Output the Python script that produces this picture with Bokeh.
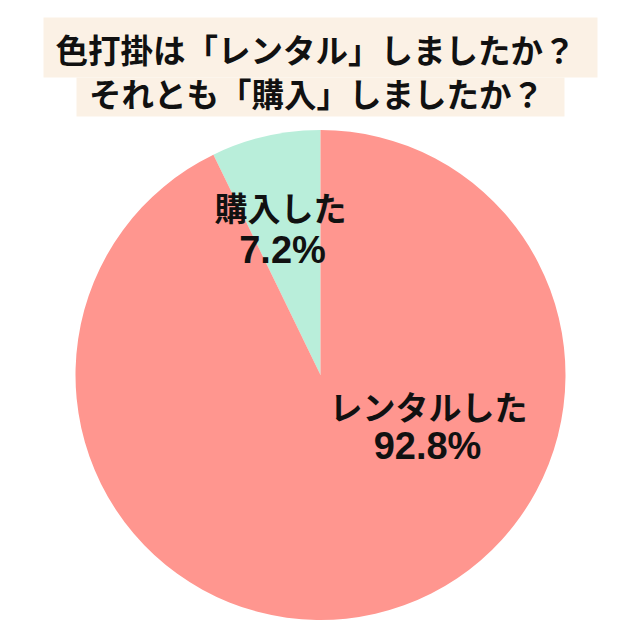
import math

from bokeh.core.properties import value
from bokeh.embed import file_html
from bokeh.models import Range1d
from bokeh.plotting import figure
from bokeh.resources import INLINE

# data
title_lines = ["色打掛は「レンタル」しましたか？", "それとも「購入」しましたか？"]
categories = ["購入した", "レンタルした"]
shares = [7.2, 92.8]
colors = ["#B9EEDA", "#FF968F"]

W = H = 624
p = figure(width=W, height=H, output_backend="svg", toolbar_location=None,
           x_range=Range1d(0, W), y_range=Range1d(0, H), min_border=0)
p.axis.visible = False
p.grid.visible = False
p.outline_line_color = None
p.background_fill_color = "white"

# pie, starting at 12 o'clock, anticlockwise
cx, cy, r = 320, 249.5, 245
start = math.pi / 2
starts, ends = [], []
for s in shares:
    starts.append(start)
    start += s / 100 * 2 * math.pi
    ends.append(start)

p.wedge(x=cx, y=cy, radius=r, start_angle=starts, end_angle=ends,
        fill_color=colors, line_color=None)

# title boxes
p.quad(left=[43, 76], right=[597, 564], bottom=[547, 508], top=[607, 547],
       fill_color="#FBF1E5", line_color=None)
jp = value("Noto Sans CJK JP")
p.text(x=[315, 316], y=[576, 532], text=title_lines, text_font=jp,
       text_font_size="32.5px", text_font_style="bold", text_color="#111111",
       text_align="center", text_baseline="middle")

# slice labels
p.text(x=[280, 428], y=[418, 219], text=categories, text_font=jp,
       text_font_size="33px", text_font_style="bold", text_color="#111111",
       text_align="center", text_baseline="middle")
p.text(x=[282, 427], y=[375, 179], text=[f"{v}%" for v in shares],
       text_font=value("Liberation Sans"), text_font_size="38px",
       text_font_style="bold", text_color="#111111",
       text_align="center", text_baseline="middle")

open("out.html", "w").write(file_html(p, INLINE))
